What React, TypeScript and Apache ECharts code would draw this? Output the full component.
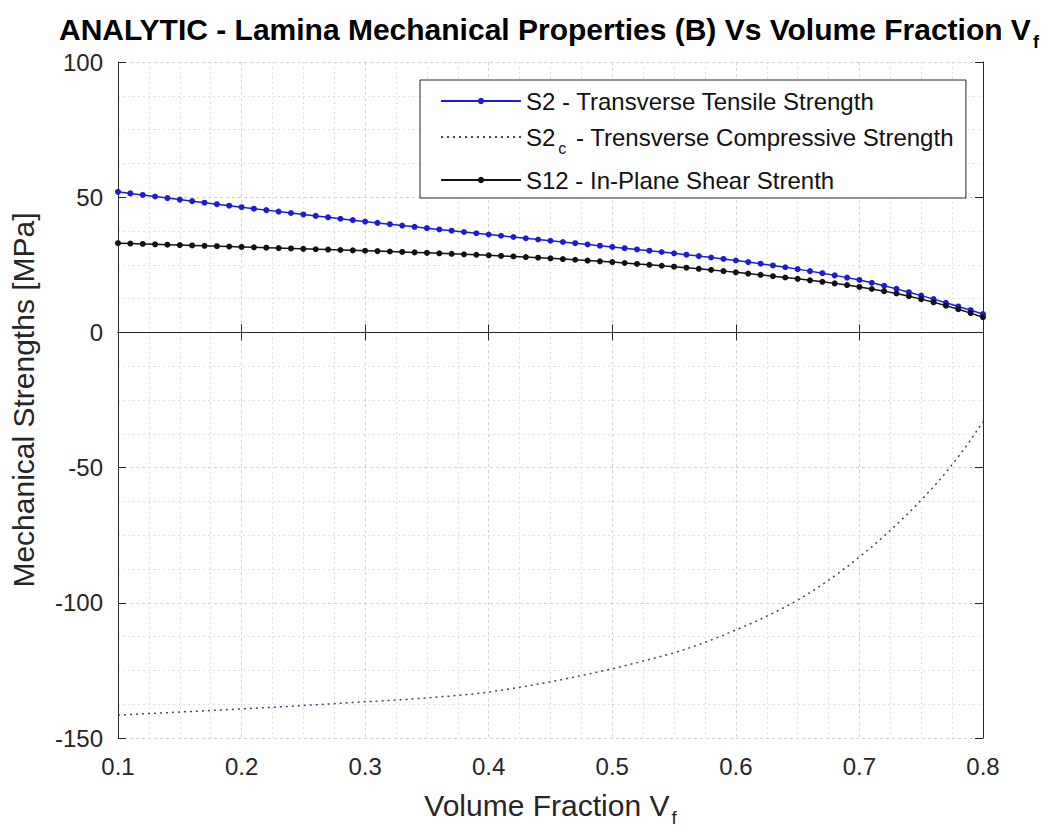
import React, { useEffect, useRef } from "react";
import * as echarts from "echarts";

const volumeFraction = [
  0.10, 0.11, 0.12, 0.13, 0.14, 0.15, 0.16, 0.17, 0.18, 0.19,
  0.20, 0.21, 0.22, 0.23, 0.24, 0.25, 0.26, 0.27, 0.28, 0.29,
  0.30, 0.31, 0.32, 0.33, 0.34, 0.35, 0.36, 0.37, 0.38, 0.39,
  0.40, 0.41, 0.42, 0.43, 0.44, 0.45, 0.46, 0.47, 0.48, 0.49,
  0.50, 0.51, 0.52, 0.53, 0.54, 0.55, 0.56, 0.57, 0.58, 0.59,
  0.60, 0.61, 0.62, 0.63, 0.64, 0.65, 0.66, 0.67, 0.68, 0.69,
  0.70, 0.71, 0.72, 0.73, 0.74, 0.75, 0.76, 0.77, 0.78, 0.79,
  0.80,
];

const s2Tensile = [
  52.0, 51.41, 50.83, 50.25, 49.68, 49.11, 48.54, 47.98, 47.42, 46.86,
  46.3, 45.76, 45.22, 44.68, 44.15, 43.62, 43.09, 42.56, 42.04, 41.52,
  41.0, 40.5, 40.01, 39.52, 39.04, 38.56, 38.08, 37.61, 37.14, 36.67,
  36.2, 35.74, 35.28, 34.82, 34.36, 33.9, 33.44, 32.98, 32.52, 32.06,
  31.6, 31.15, 30.69, 30.22, 29.74, 29.25, 28.75, 28.23, 27.7, 27.16,
  26.6, 26.02, 25.41, 24.77, 24.1, 23.4, 22.66, 21.89, 21.09, 20.26,
  19.4, 18.35, 17.25, 16.09, 14.87, 13.6, 12.3, 10.97, 9.61, 8.22,
  6.8,
];

const s2cCompressive = [
  -141.5, -141.28, -141.06, -140.84, -140.62, -140.4, -140.17, -139.94, -139.71, -139.48,
  -139.25, -139.0, -138.75, -138.5, -138.25, -137.98, -137.71, -137.44, -137.16, -136.88,
  -136.6, -136.35, -136.08, -135.8, -135.5, -135.17, -134.82, -134.45, -134.05, -133.6,
  -133.0, -132.34, -131.63, -130.87, -130.06, -129.2, -128.32, -127.39, -126.42, -125.42,
  -124.4, -123.3, -122.15, -120.95, -119.75, -118.5, -117.05, -115.45, -113.75, -111.95,
  -110.0, -108.1, -106.05, -103.85, -101.5, -99.0, -96.25, -93.25, -90.05, -86.65,
  -83.0, -79.3, -75.3, -71.1, -66.7, -62.0, -57.1, -51.8, -46.0, -39.8,
  -33.0,
];

const s12Shear = [
  33.0, 32.86, 32.72, 32.58, 32.44, 32.3, 32.16, 32.02, 31.88, 31.74,
  31.6, 31.46, 31.32, 31.18, 31.04, 30.9, 30.76, 30.62, 30.48, 30.34,
  30.2, 30.06, 29.91, 29.75, 29.59, 29.42, 29.25, 29.07, 28.89, 28.7,
  28.5, 28.3, 28.09, 27.87, 27.64, 27.39, 27.13, 26.86, 26.58, 26.29,
  26.0, 25.67, 25.33, 24.99, 24.64, 24.3, 23.92, 23.52, 23.1, 22.66,
  22.2, 21.74, 21.27, 20.79, 20.3, 19.8, 19.27, 18.72, 18.13, 17.5,
  16.8, 16.06, 15.26, 14.38, 13.39, 12.3, 11.14, 9.9, 8.57, 7.14,
  5.6,
];

const seriesNames = [
  "S2 - Transverse Tensile Strength",
  "S2c - Trensverse Compressive Strength",
  "S12 - In-Plane Shear Strenth",
];

const xTicks = { min: 0.1, max: 0.8, interval: 0.1 };
const yTicks = { min: -150, max: 100, interval: 50 };

const FONT = "'Liberation Sans', Arial, Helvetica, sans-serif";
const AXIS_COLOR = "#262626";

export default function App() {
  const ref = useRef<HTMLDivElement>(null);

  useEffect(() => {
    if (!ref.current) return;
    const chart = echarts.init(ref.current, null, { renderer: "svg" });
    const pairs = (ys: number[]) => volumeFraction.map((x, i) => [x, ys[i]]);

    const gridLine = {
      show: true,
      lineStyle: { color: "#d2d2d2", type: [3, 3] as any, width: 1 },
    };
    const minorGridLine = {
      show: true,
      lineStyle: { color: "#e0e0e0", type: [2, 3] as any, width: 1 },
    };

    const baseX = {
      type: "value" as const,
      min: xTicks.min,
      max: xTicks.max,
      interval: xTicks.interval,
      axisLine: { show: true, lineStyle: { color: AXIS_COLOR, width: 1 } },
      axisTick: { show: true, inside: true, length: 8, lineStyle: { color: AXIS_COLOR } },
    };
    const baseY = {
      type: "value" as const,
      min: yTicks.min,
      max: yTicks.max,
      interval: yTicks.interval,
      axisLine: { show: true, lineStyle: { color: AXIS_COLOR, width: 1 } },
      axisTick: { show: true, inside: true, length: 8, lineStyle: { color: AXIS_COLOR } },
    };

    chart.setOption({
      animation: false,
      backgroundColor: "#ffffff",
      title: {
        text: "{t|ANALYTIC - Lamina Mechanical Properties (B) Vs Volume Fraction V}{s|f}",
        left: 54,
        top: 2,
        textStyle: {
          rich: {
            t: { fontFamily: FONT, fontWeight: "bold", fontSize: 30, color: "#000" },
            s: { fontFamily: FONT, fontWeight: "bold", fontSize: 18, color: "#000", padding: [26, 0, 0, 2] },
          },
        },
      },
      legend: {
        orient: "vertical",
        left: 420,
        top: 80,
        padding: [9, 12, 6, 20],
        itemGap: 12,
        itemWidth: 80,
        itemHeight: 8,
        borderColor: AXIS_COLOR,
        borderWidth: 1,
        borderRadius: 0,
        backgroundColor: "#ffffff",
        data: [
          { name: seriesNames[0] },
          { name: seriesNames[1], itemStyle: { color: "rgba(0,0,0,0)", borderWidth: 0 } },
          { name: seriesNames[2] },
        ],
        formatter: (name: string) =>
          name.startsWith("S2c")
            ? "{a|S2}{s|c}{a| - Trensverse Compressive Strength}"
            : "{a|" + name + "}",
        textStyle: {
          rich: {
            a: { fontFamily: FONT, fontSize: 24, color: "#111" },
            s: { fontFamily: FONT, fontSize: 16, color: "#111", padding: [22, 3, 0, 3] },
          },
        },
      },
      grid: { left: 117, right: 65, top: 62, bottom: 94, containLabel: false },
      xAxis: [
        {
          ...baseX,
          position: "bottom",
          name: "{a|Volume Fraction V}{s|f}",
          nameLocation: "middle",
          nameGap: 46,
          nameTextStyle: {
            rich: {
              a: { fontFamily: FONT, fontSize: 30, color: AXIS_COLOR },
              s: { fontFamily: FONT, fontSize: 19, color: AXIS_COLOR, padding: [24, 0, 0, 2] },
            },
          },
          axisLabel: {
            show: true,
            margin: 16,
            fontFamily: FONT,
            fontSize: 24,
            color: AXIS_COLOR,
            formatter: (v: number) => v.toFixed(1),
          },
          splitLine: gridLine,
          minorTick: { show: false, splitNumber: 4 },
          minorSplitLine: minorGridLine,
        },
        {
          ...baseX,
          position: "top",
          axisLabel: { show: false },
          splitLine: { show: false },
        },
      ],
      yAxis: [
        {
          ...baseY,
          position: "left",
          name: "Mechanical Strengths [MPa]",
          nameLocation: "middle",
          nameGap: 80,
          nameTextStyle: { fontFamily: FONT, fontSize: 30, color: AXIS_COLOR },
          axisLabel: {
            show: true,
            margin: 15,
            fontFamily: FONT,
            fontSize: 24,
            color: AXIS_COLOR,
          },
          splitLine: gridLine,
          minorTick: { show: false, splitNumber: 4 },
          minorSplitLine: minorGridLine,
        },
        {
          ...baseY,
          position: "right",
          axisLabel: { show: false },
          splitLine: { show: false },
        },
      ],
      series: [
        {
          name: seriesNames[0],
          type: "line",
          xAxisIndex: 0,
          yAxisIndex: 0,
          data: pairs(s2Tensile),
          symbol: "circle",
          symbolSize: 6,
          showSymbol: true,
          itemStyle: { color: "#1c1cd6" },
          lineStyle: { color: "#1c1cd6", width: 1.5 },
          z: 3,
        },
        {
          name: seriesNames[1],
          type: "line",
          xAxisIndex: 0,
          yAxisIndex: 0,
          data: pairs(s2cCompressive),
          symbol: "none",
          itemStyle: { color: "#40407a" },
          lineStyle: { color: "#40407a", width: 1.5, type: [2, 4] as any },
          z: 2,
        },
        {
          name: seriesNames[2],
          type: "line",
          xAxisIndex: 0,
          yAxisIndex: 0,
          data: pairs(s12Shear),
          symbol: "circle",
          symbolSize: 6,
          showSymbol: true,
          itemStyle: { color: "#111111" },
          lineStyle: { color: "#111111", width: 1.5 },
          z: 4,
        },
      ],
    });

    return () => chart.dispose();
  }, []);

  return <div ref={ref} style={{ width: 1048, height: 832, margin: -8 }} />;
}
